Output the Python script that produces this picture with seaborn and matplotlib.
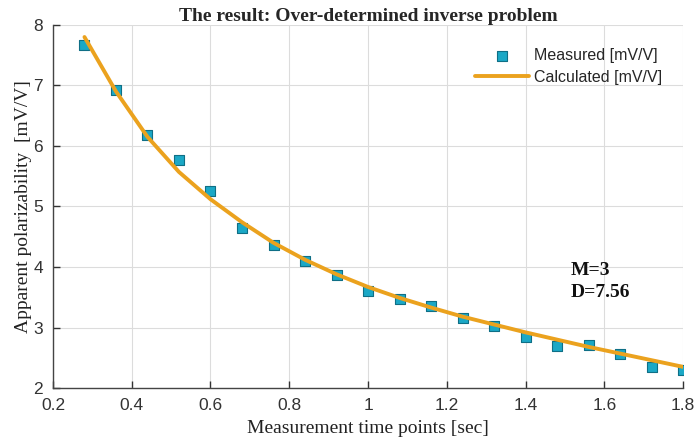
import numpy as np
import pandas as pd
import matplotlib
matplotlib.use("Agg")
import matplotlib.pyplot as plt
import seaborn as sns

# measurement times [sec]
t = [0.28, 0.36, 0.44, 0.52, 0.60, 0.68, 0.76, 0.84, 0.92, 1.00,
     1.08, 1.16, 1.24, 1.32, 1.40, 1.48, 1.56, 1.64, 1.72, 1.80]
# measured apparent polarizability [mV/V]
measured = [7.67, 6.93, 6.18, 5.77, 5.26, 4.64, 4.36, 4.10, 3.87, 3.60,
            3.47, 3.35, 3.16, 3.02, 2.85, 2.69, 2.71, 2.56, 2.35, 2.29]
# calculated curve [mV/V]
calculated = [7.80, 6.90, 6.15, 5.57, 5.12, 4.74, 4.40, 4.12, 3.88, 3.67,
              3.49, 3.33, 3.18, 3.05, 2.92, 2.80, 2.68, 2.57, 2.46, 2.35]

df = pd.DataFrame({"t": t, "measured": measured, "calculated": calculated})

sns.set_style("white")
plt.rcParams["font.family"] = ["Liberation Sans", "DejaVu Sans"]

fig = plt.figure(figsize=(6.97, 4.45), dpi=100)
ax = fig.add_axes([0.076, 0.128, 0.904, 0.816])

sns.scatterplot(data=df, x="t", y="measured", marker="s", s=55, color="#1ba8c6",
                edgecolor="#0f6f86", linewidth=0.8, label="Measured [mV/V]", ax=ax, zorder=3)
sns.lineplot(data=df, x="t", y="calculated", color="#EBA21E", linewidth=2.8,
             label="Calculated [mV/V]", ax=ax, zorder=4)

ax.set_xlim(0.2, 1.8)
ax.set_ylim(2, 8)
ax.set_xticks(np.arange(0.2, 1.81, 0.2))
ax.set_xticklabels(["0.2", "0.4", "0.6", "0.8", "1", "1.2", "1.4", "1.6", "1.8"])
ax.set_yticks(range(2, 9))
ax.grid(True, color="#dcdcdc", linewidth=0.8)
for s in ["top", "right"]:
    ax.spines[s].set_visible(False)
for s in ["left", "bottom"]:
    ax.spines[s].set_color("#444444")
    ax.spines[s].set_linewidth(1.0)
ax.tick_params(direction="in", length=5, width=1, colors="#333333", labelsize=12.5,
               bottom=True, left=True)
ax.tick_params(axis="x", pad=7)
ax.tick_params(axis="y", pad=7)

ax.set_xlabel("Measurement time points [sec]", family="Liberation Serif", fontsize=14,
              color="#222222", labelpad=5)
ax.set_ylabel("Apparent polarizability  [mV/V]", family="Liberation Serif", fontsize=14,
              color="#222222", labelpad=1)
ax.set_title("The result: Over-determined inverse problem", family="Liberation Serif",
             fontweight="bold", fontsize=14, pad=3)

ax.text(1.515, 3.5, "M=3\nD=7.56", family="Liberation Serif", fontweight="bold",
        fontsize=14, linespacing=1.4, color="#111111")

leg = ax.legend(loc="upper right", bbox_to_anchor=(0.99, 0.975), frameon=False,
                fontsize=11.5, handlelength=3.4, handletextpad=0.3,
                labelspacing=0.4)

fig.savefig("out.png", dpi=100)
